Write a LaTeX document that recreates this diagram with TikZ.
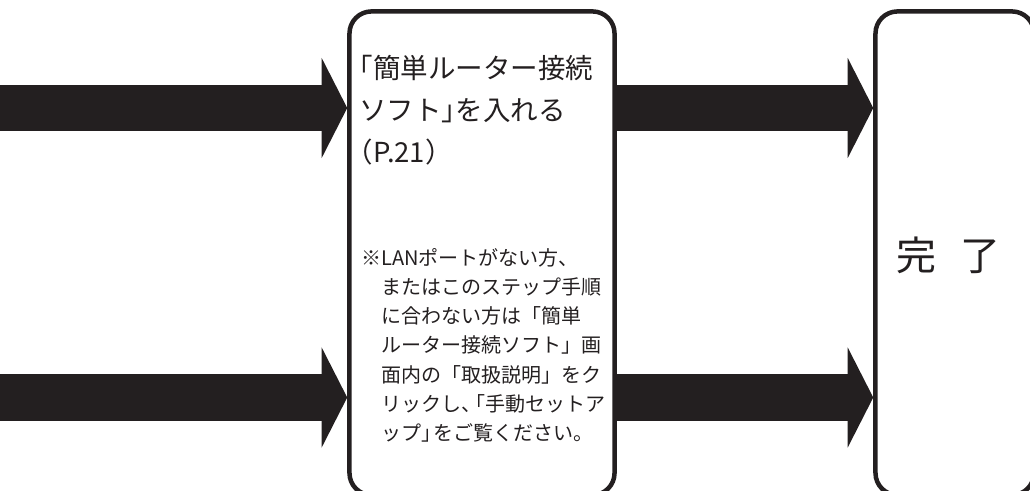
\documentclass[tikz,border=0pt]{standalone}
\usepackage{fontspec}
\newfontfamily\jpfont{Noto Sans CJK JP}
\usetikzlibrary{arrows.meta}
\definecolor{ink}{HTML}{231F20}

\begin{document}
\begin{tikzpicture}[x=0.025cm, y=-0.025cm,
    bigarrow/.style={ink, line width=1.15cm, -{Triangle[length=0.6375cm, width=2.5cm, line width=0pt]}},
    stepbox/.style={draw=ink, line width=0.1125cm, rounded corners=0.55cm, inner sep=0pt, minimum height=12.0875cm},
    steptext/.style={ink, inner sep=0pt, anchor=north west, align=left}]
    \useasboundingbox (0,0) rectangle (1030,491);
    \clip (0,0) rectangle (1030,491);
    \node[stepbox, minimum width=6.625cm] (setup) at (482,253.25) {};
    \node[stepbox, minimum width=3.9625cm] (done) at (954.75,253.25) {};
    \node[steptext, font=\jpfont\fontsize{19.56pt}{29.88pt}\selectfont] (setuptitle) at (359,55)
        {\kern-0.5em「簡単ルーター接続\\ソフト」\kern-0.5emを入れる\\\kern-0.5em（P.21）};
    \node[steptext, font=\jpfont\fontsize{14.23pt}{20.77pt}\selectfont] (setupnote) at (361,248)
        {※LANポートがない方、\\
        \hspace*{1em}またはこのステップ手順\\
        \hspace*{1em}に合わない方は「簡単\\
        \hspace*{1em}ルーター接続ソフト」画\\
        \hspace*{1em}面内の「取扱説明」をク\\
        \hspace*{1em}リックし、\kern-0.8em「手動セットア\\
        \hspace*{1em}ップ」\kern-0.4emをご覧ください。};
    \node[ink, inner sep=0pt, font=\jpfont\fontsize{28.45pt}{30pt}\selectfont] (donelabel) at (948,255) {完\hspace{0.6em}了};
    \coordinate (intop) at (0,108);
    \coordinate (inbottom) at (0,397.5);
    \draw[bigarrow] (intop) -- (intop -| setup.west);
    \draw[bigarrow] (inbottom) -- (inbottom -| setup.west);
    \draw[bigarrow] (intop -| setup.east) -- (intop -| done.west);
    \draw[bigarrow] (inbottom -| setup.east) -- (inbottom -| done.west);
\end{tikzpicture}
\end{document}
